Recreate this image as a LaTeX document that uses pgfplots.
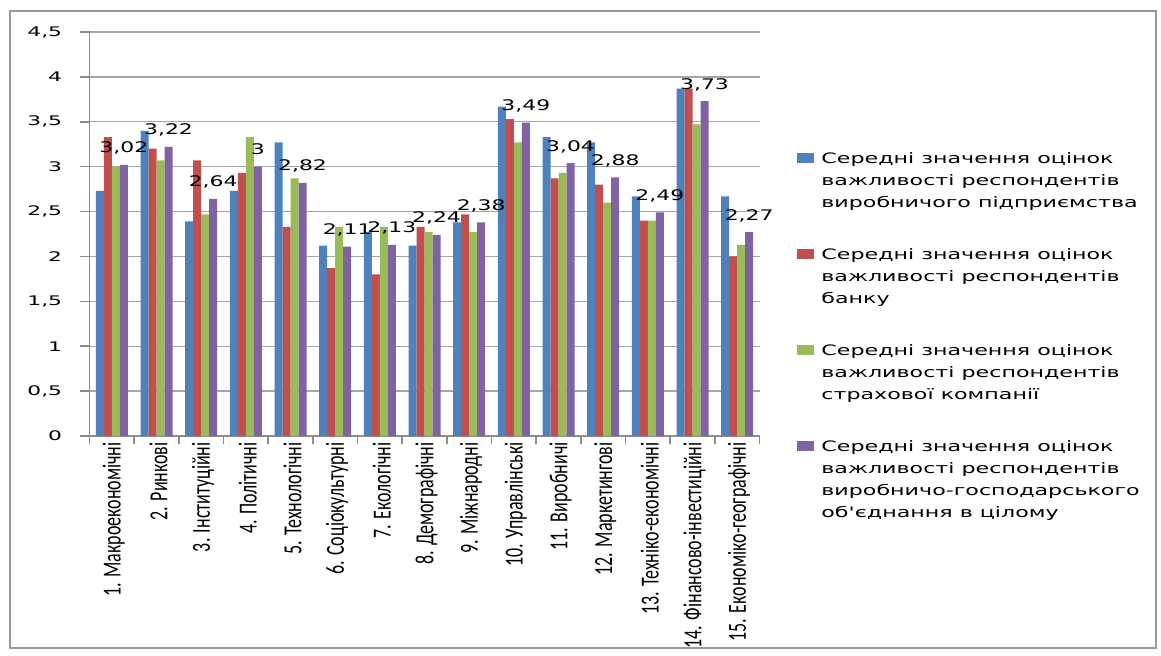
\documentclass[border=0pt]{standalone}
\usepackage{pgfplots}
\pgfplotsset{compat=1.18}
\usepackage{fontspec}
\setmainfont{DejaVu Sans}
\newfontfamily\wfont{DejaVu Sans}[FakeStretch=1.5]
\newfontfamily\lfont{DejaVu Sans}[FakeStretch=1.54]
\newfontfamily\tfont{DejaVu Sans}[FakeStretch=1.65]
\newfontfamily\catfont{Carlito}[FakeStretch=0.69]
\definecolor{cblue}{HTML}{4F81BD}
\definecolor{cred}{HTML}{C0504D}
\definecolor{cgreen}{HTML}{9BBB59}
\definecolor{cpurple}{HTML}{8064A2}
\pgfkeys{/pgf/number format/.cd, use comma, assume math mode=true}
\pgfplotstableread{
x a b c d
0 2.73 3.33 3.00 3.02
1 3.40 3.20 3.07 3.22
2 2.39 3.07 2.47 2.64
3 2.73 2.93 3.33 3
4 3.27 2.33 2.87 2.82
5 2.12 1.87 2.33 2.11
6 2.27 1.80 2.33 2.13
7 2.12 2.33 2.27 2.24
8 2.38 2.47 2.27 2.38
9 3.67 3.53 3.27 3.49
10 3.33 2.87 2.93 3.04
11 3.27 2.80 2.60 2.88
12 2.67 2.40 2.40 2.49
13 3.87 3.87 3.47 3.73
14 2.67 2.00 2.13 2.27
}\datatable
\begin{document}
\begin{tikzpicture}
\useasboundingbox (0,0) rectangle (580.5pt,327.5pt);
\draw[black!40, line width=0.8pt] (5pt,3.5pt) rectangle (578pt,322pt);
\begin{axis}[
  at={(44.75pt,109.5pt)}, anchor=south west,
  scale only axis, width=335pt, height=202pt,
  ybar=0pt, bar width=4pt,
  xmin=-0.5, xmax=14.5, ymin=0, ymax=4.5,
  xtick={0,...,14},
  xticklabels={1. Макроекономічні, 2. Ринкові, 3. Інституційні, 4. Політичні, 5. Технологічні, 6. Соціокультурні, 7. Екологічні, 8. Демографічні, 9. Міжнародні, 10. Управлінські, 11. Виробничі, 12. Маркетингові, 13. Техніко-економічні, 14. Фінансово-інвестиційні, 15. Економіко-географічні},
  minor xtick={-0.5,0.5,...,14.5},
  ytick={0,0.5,...,4.5},
  yticklabel={\tfont\pgfmathprintnumber[assume math mode=true,use comma]{\tick}},
  axis x line*=bottom, axis y line*=left,
  axis line style={-, black!45, line width=0.8pt},
  tick align=outside,
  major tick length=4.5pt, minor tick length=4pt,
  major x tick style={draw=none},
  minor x tick style={black!45, line width=0.8pt},
  y tick style={black!45, line width=0.8pt},
  ymajorgrids, major grid style={black!35, line width=0.7pt},
  yticklabel style={font=\tfont\fontsize{6.6}{8}\selectfont, anchor=east, inner sep=0pt, xshift=-9pt},
  xticklabel style={font=\catfont\fontsize{13}{15}\selectfont, rotate=90, anchor=east, inner sep=0pt, xshift=1.5pt, yshift=-1pt},
  legend style={at={(1.056,0.713)}, anchor=north west, draw=none, fill=none, inner sep=0pt,
    row sep=38.8pt, column sep=3.5pt, font=\lfont\fontsize{7.2}{11}\selectfont,
    nodes={inner sep=0pt}},
  legend cell align=left,
  legend image code/.code={\fill[#1] (0pt,-2.8pt) rectangle (8.5pt,2.2pt);},
]
\addplot[fill=cblue, draw=none] table[x=x,y=a]{\datatable};
\addlegendentry{\begin{tabular}[t]{@{}l@{}}Середні значення оцінок\\важливості респондентів\\виробничого підприємства\end{tabular}}
\addplot[fill=cred, draw=none] table[x=x,y=b]{\datatable};
\addlegendentry{\begin{tabular}[t]{@{}l@{}}Середні значення оцінок\\важливості респондентів\\банку\end{tabular}}
\addplot[fill=cgreen, draw=none] table[x=x,y=c]{\datatable};
\addlegendentry{\begin{tabular}[t]{@{}l@{}}Середні значення оцінок\\важливості респондентів\\страхової компанії\end{tabular}}
\addplot[fill=cpurple, draw=none,
  nodes near coords={\wfont\fontsize{7.3}{9}\selectfont\pgfmathprintnumber[assume math mode=true,use comma]{\pgfplotspointmeta}},
  every node near coord/.append style={text=black, anchor=base, inner sep=0pt, yshift=6pt}]
  table[x=x,y=d]{\datatable};
\addlegendentry{\begin{tabular}[t]{@{}l@{}}Середні значення оцінок\\важливості респондентів\\виробничо-господарського\\об'єднання в цілому\end{tabular}}
\end{axis}
\end{tikzpicture}
\end{document}
